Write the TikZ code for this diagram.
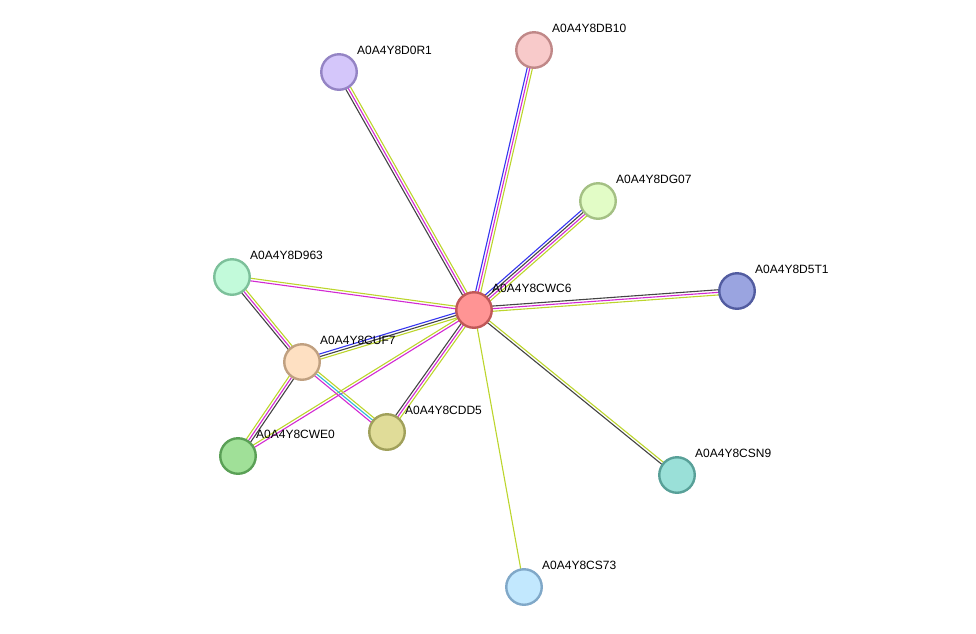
\documentclass[tikz,border=0pt]{standalone}
\usepackage{fontspec}
\setmainfont{Liberation Sans}
\usetikzlibrary{calc}
\definecolor{edark}{HTML}{444444}
\definecolor{emag}{HTML}{D22AD2}
\definecolor{eyel}{HTML}{BCD52C}
\definecolor{eblue}{HTML}{3535F0}
\definecolor{ecyan}{HTML}{2CB8D8}
\definecolor{bCWC6}{HTML}{C05858}\definecolor{fCWC6}{HTML}{FF9494}
\definecolor{bDB10}{HTML}{C08888}\definecolor{fDB10}{HTML}{F8CACA}
\definecolor{bD0R1}{HTML}{9484C4}\definecolor{fD0R1}{HTML}{D4C6FA}
\definecolor{bDG07}{HTML}{A4C084}\definecolor{fDG07}{HTML}{E2FCC6}
\definecolor{bD5T1}{HTML}{525CA0}\definecolor{fD5T1}{HTML}{9AA4E0}
\definecolor{bD963}{HTML}{7CC09A}\definecolor{fD963}{HTML}{C2FADA}
\definecolor{bCUF7}{HTML}{C0A080}\definecolor{fCUF7}{HTML}{FEE0C2}
\definecolor{bCWE0}{HTML}{5AA056}\definecolor{fCWE0}{HTML}{A0E098}
\definecolor{bCDD5}{HTML}{A0A05A}\definecolor{fCDD5}{HTML}{E0DC98}
\definecolor{bCSN9}{HTML}{58A098}\definecolor{fCSN9}{HTML}{9AE0D8}
\definecolor{bCS73}{HTML}{80A8C8}\definecolor{fCS73}{HTML}{C2E8FE}
\tikzset{
  prot/.style={circle, minimum size=35.5pt, inner sep=0pt, line width=2.4pt, draw=b#1, fill=f#1},
  plabel/.style={anchor=west, inner sep=0pt, font=\fontsize{12}{14}\selectfont, text=black},
  eline/.style={line width=1.1pt}
}
\newcommand\medge[3]{%
  \foreach \cc/\oo in {#3} {
    \draw[eline, \cc] ($(#1)!\oo pt!90:(#2)$) -- ($(#2)!\oo pt!-90:(#1)$);
  }%
}
\begin{document}
\begin{tikzpicture}[x=1pt,y=-1pt]
\useasboundingbox (0,0) rectangle (976,633);
% coordinates for node centres
\coordinate (pCWC6) at (474,310);
\coordinate (pDB10) at (534,50);
\coordinate (pD0R1) at (339,72);
\coordinate (pDG07) at (598,201);
\coordinate (pD5T1) at (737,291);
\coordinate (pD963) at (232,277);
\coordinate (pCUF7) at (302,362);
\coordinate (pCWE0) at (238,456);
\coordinate (pCDD5) at (387,432);
\coordinate (pCSN9) at (677,475);
\coordinate (pCS73) at (524,587);
% edges
\medge{pCWC6}{pDB10}{eblue/2.6, emag/0, eyel/-2.6}
\medge{pCWC6}{pD0R1}{edark/2.6, emag/0, eyel/-2.6}
\medge{pCWC6}{pDG07}{eblue/3.9, edark/1.3, emag/-1.3, eyel/-3.9}
\medge{pCWC6}{pD5T1}{edark/2.6, emag/0, eyel/-2.6}
\medge{pCWC6}{pD963}{emag/1.3, eyel/-1.3}
\medge{pCWC6}{pCUF7}{eyel/2.6, edark/0, eblue/-2.6}
\medge{pCWC6}{pCWE0}{emag/1.3, eyel/-1.3}
\medge{pCWC6}{pCDD5}{eyel/2.6, emag/0, edark/-2.6}
\medge{pCWC6}{pCSN9}{eyel/1.3, edark/-1.3}
\medge{pCWC6}{pCS73}{eyel/0}
\medge{pD963}{pCUF7}{eyel/2.6, emag/0, edark/-2.6}
\medge{pCUF7}{pCWE0}{edark/2.6, emag/0, eyel/-2.6}
\medge{pCUF7}{pCDD5}{eyel/2.6, ecyan/0, emag/-2.6}
% nodes
\node[prot=CWC6] (CWC6) at (pCWC6) {};
\node[prot=DB10] (DB10) at (pDB10) {};
\node[prot=D0R1] (D0R1) at (pD0R1) {};
\node[prot=DG07] (DG07) at (pDG07) {};
\node[prot=D5T1] (D5T1) at (pD5T1) {};
\node[prot=D963] (D963) at (pD963) {};
\node[prot=CUF7] (CUF7) at (pCUF7) {};
\node[prot=CWE0] (CWE0) at (pCWE0) {};
\node[prot=CDD5] (CDD5) at (pCDD5) {};
\node[prot=CSN9] (CSN9) at (pCSN9) {};
\node[prot=CS73] (CS73) at (pCS73) {};
% labels
\node[plabel] (lCWC6) at ($(pCWC6)+(18,-22)$) {A0A4Y8CWC6};
\node[plabel] (lDB10) at ($(pDB10)+(18,-22)$) {A0A4Y8DB10};
\node[plabel] (lD0R1) at ($(pD0R1)+(18,-22)$) {A0A4Y8D0R1};
\node[plabel] (lDG07) at ($(pDG07)+(18,-22)$) {A0A4Y8DG07};
\node[plabel] (lD5T1) at ($(pD5T1)+(18,-22)$) {A0A4Y8D5T1};
\node[plabel] (lD963) at ($(pD963)+(18,-22)$) {A0A4Y8D963};
\node[plabel] (lCUF7) at ($(pCUF7)+(18,-22)$) {A0A4Y8CUF7};
\node[plabel] (lCWE0) at ($(pCWE0)+(18,-22)$) {A0A4Y8CWE0};
\node[plabel] (lCDD5) at ($(pCDD5)+(18,-22)$) {A0A4Y8CDD5};
\node[plabel] (lCSN9) at ($(pCSN9)+(18,-22)$) {A0A4Y8CSN9};
\node[plabel] (lCS73) at ($(pCS73)+(18,-22)$) {A0A4Y8CS73};
\end{tikzpicture}
\end{document}
